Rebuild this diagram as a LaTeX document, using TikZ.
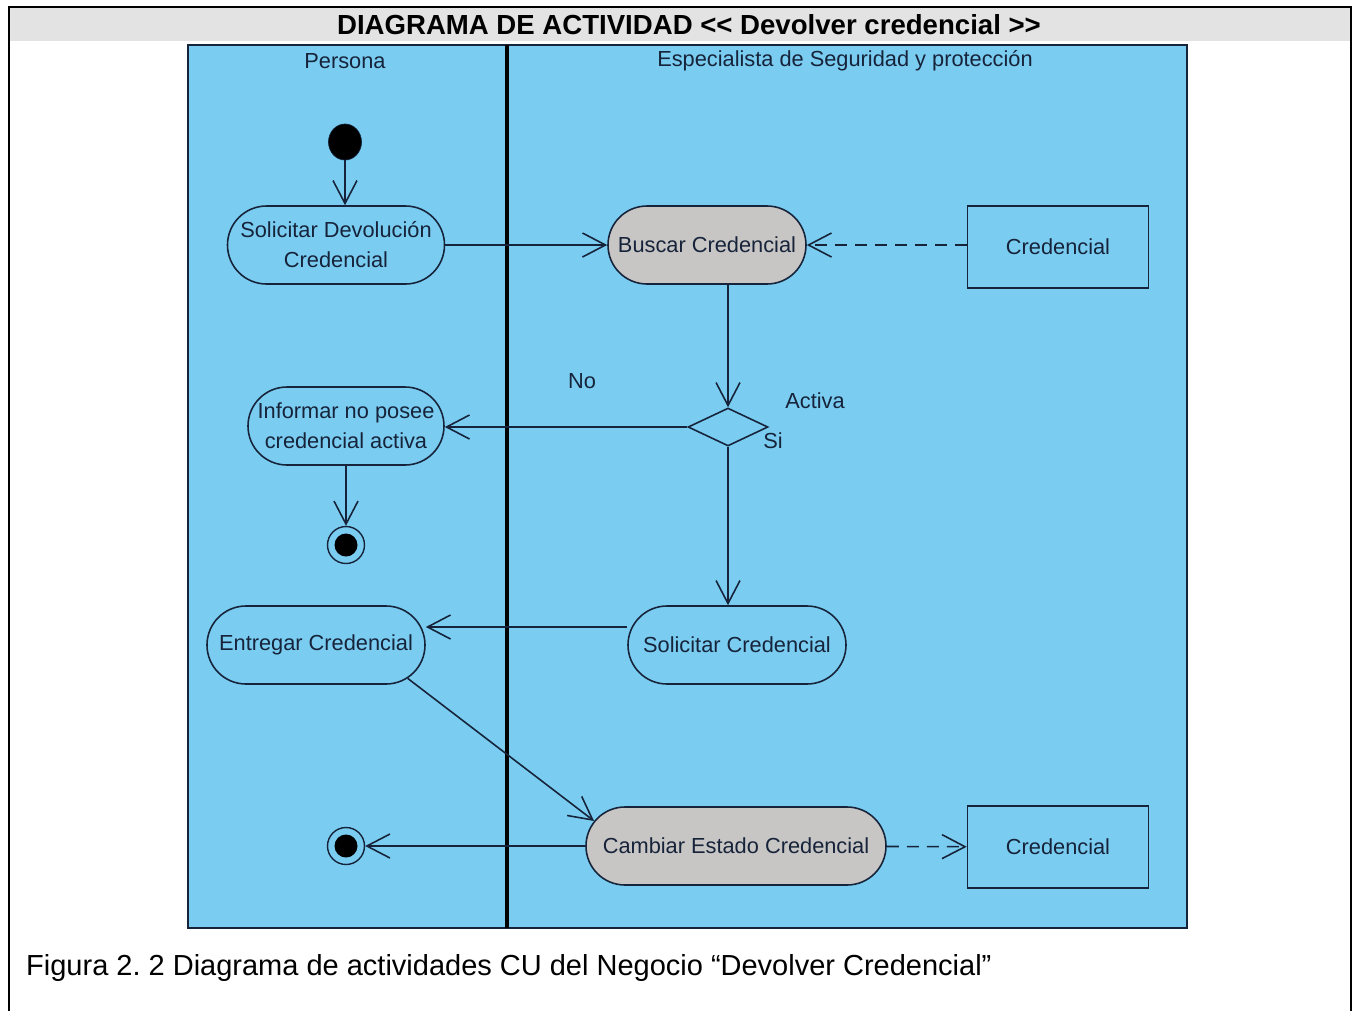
\documentclass[tikz,border=0pt]{standalone}
\usepackage{fontspec}
\setmainfont{Liberation Sans}
\usetikzlibrary{arrows.meta,positioning,shapes.geometric,shapes.misc}
\definecolor{lane}{HTML}{7ACDF1}
\definecolor{busy}{HTML}{C8C6C4}
\definecolor{band}{HTML}{E3E3E3}
\definecolor{ink}{HTML}{16233A}
\tikzset{
  >={Straight Barb[length=4.6mm,width=4.8mm]},
  every node/.style={font=\fontsize{12.4}{17}\selectfont,text=ink},
  act/.style={rounded rectangle,draw=ink,line width=0.9pt,fill=lane,minimum height=15.6mm,inner sep=0pt,align=center},
  actgray/.style={act,fill=busy},
  objbox/.style={rectangle,draw=ink,line width=0.9pt,fill=lane,minimum width=36.2mm,minimum height=16.4mm,align=center},
  startdot/.style={ellipse,fill=black,draw=ink,minimum width=6.6mm,minimum height=7.2mm,inner sep=0pt},
  enddot/.style={circle,draw=ink,line width=0.8pt,fill=lane,minimum size=7.4mm,inner sep=0pt,
    path picture={\fill[black] (path picture bounding box.center) circle[radius=2.3mm];}},
  decision/.style={diamond,draw=ink,line width=0.9pt,fill=lane,minimum width=16mm,minimum height=7.6mm,inner sep=0pt},
  flow/.style={->,line width=0.9pt,draw=ink},
  dep/.style={->,line width=0.9pt,draw=ink,dash pattern=on 2.4mm off 1.6mm},
  lbl/.style={inner sep=1pt},
}

\begin{document}
\frenchspacing
\begin{tikzpicture}[x=0.2mm,y=-0.2mm]
  \useasboundingbox (0,0) rectangle (1358,1011);
  % frame and title band
  \fill[band] (10,8) rectangle (1350,41);
  \draw[line width=1.1pt] (9,1011) -- (9,7) -- (1351,7) -- (1351,1011);
  \node[font=\bfseries\fontsize{15.7}{18}\selectfont,text=black] (title) at (689,25) {DIAGRAMA DE ACTIVIDAD <{}< Devolver credencial >{}>};

  % swimlanes
  \draw[draw=ink,line width=0.9pt,fill=lane] (188,45) rectangle (1187,928);
  \draw[draw=black,line width=1.8pt] (507,45) -- (507,928);
  \node (persona) at (345,61) {Persona};
  \node (especialista) at (845,61) {Especialista de Seguridad y protección};

  \node[startdot] (ini) at (345,142) {};
  \node[act,minimum width=43.4mm] (sdev) at (336,245) {Solicitar Devolución\\Credencial};
  \node[actgray,minimum width=39.6mm] (busc) at (707,245) {Buscar Credencial};
  \node[objbox] (cred1) at (1058,247) {Credencial};
  \node[decision] (dec) at (728,427) {};
  \node[act,minimum width=39.2mm] (inf) at (346,426) {Informar no posee\\credencial activa};
  \node[enddot] (fin1) at (346,545) {};
  \node[act,minimum width=43.6mm] (scred) at (737,645) {Solicitar Credencial};
  \node[act,minimum width=43.6mm] (entr) at (316,645) {Entregar Credencial};
  \node[actgray,minimum width=60mm] (camb) at (736,846) {Cambiar Estado Credencial};
  \node[objbox] (cred2) at (1058,847) {Credencial};
  \node[enddot] (fin2) at (346,846) {};

  \node[lbl] (no) at (582,381) {No};
  \node[lbl] (activa) at (815,401) {Activa};
  \node[lbl] (si) at (773,441) {Si};

  \draw[flow] (ini) -- (ini |- sdev.north);
  \draw[flow] (sdev.east) -- (sdev.east -| busc.west);
  \draw[dep] (cred1.west |- busc) -- (busc.east);
  \draw[flow] (busc.south -| dec.north) -- (dec.north);
  \draw[flow] (dec.west) -- (dec.west -| inf.east);
  \draw[flow] (inf) -- (fin1);
  \draw[flow] (dec.south) -- (dec.south |- scred.north);
  \draw[flow] ([yshift=3.6mm]scred.west) -- ([yshift=3.6mm]entr.east);
  \draw[flow] (entr.-20) -- (camb.170);
  \draw[flow] (camb) -- (fin2);
  \draw[dep] (camb) -- (cred2);

  \node[anchor=west,font=\fontsize{16.5}{20}\selectfont,text=black] (caption) at (20,968)
    {Figura 2. 2 Diagrama de actividades CU del Negocio “Devolver Credencial”};
\end{tikzpicture}
\end{document}
